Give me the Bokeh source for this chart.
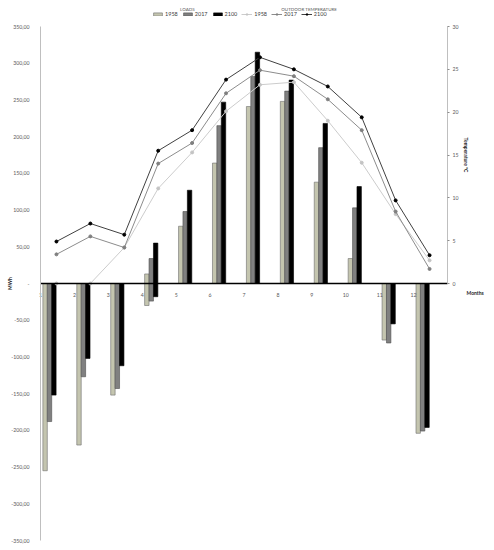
import math
from bokeh.plotting import figure
from bokeh.models import (Range1d, LinearAxis, FixedTicker, Legend, LegendItem,
                          Label, ColumnDataSource)
from bokeh.core.properties import value
from bokeh.embed import file_html
from bokeh.resources import INLINE

months = ["1", "2", "3", "4", "5", "6", "7", "8", "9", "10", "11", "12"]
years = ["1958", "2017", "2100"]

# loads (MWh): negative = heating, positive = cooling
loads_neg_1958 = [-255, -220, -152, -30, 0, 0, 0, 0, 0, 0, -77, -204]
loads_pos_1958 = [0, 0, 0, 13, 78, 164, 241, 248, 138, 34, 0, 0]
loads_neg_2017 = [-188, -127, -143, -24, 0, 0, 0, 0, 0, 0, -81, -201]
loads_pos_2017 = [0, 0, 0, 34, 98, 215, 282, 262, 185, 103, 0, 0]
loads_neg_2100 = [-152, -102, -112, -18, 0, 0, 0, 0, 0, 0, -55, -196]
loads_pos_2100 = [0, 0, 0, 55, 127, 247, 315, 277, 218, 132, 0, 0]

# outdoor temperature (°C)
temp_1958 = [0.0, 0.0, 4.2, 11.1, 15.3, 20.1, 23.2, 23.5, 19.0, 14.1, 8.1, 2.7]
temp_2017 = [3.4, 5.5, 4.2, 14.0, 16.4, 22.2, 24.9, 24.2, 21.5, 17.9, 8.4, 1.7]
temp_2100 = [4.9, 7.0, 5.7, 15.5, 17.9, 23.8, 26.4, 25.0, 23.0, 19.4, 9.7, 3.3]

mwh_ticks = list(range(-350, 351, 50))
temp_ticks = [0, 5, 10, 15, 20, 25, 30]

FONT = "Lato"
GREY_TXT = "#595959"
DARK_TXT = "#262626"

W, H = 494, 548
# frame fills the canvas; axes are placed at fixed data locations
PX_X = 33.92          # px per month
PX_Y = 514 / 700.0    # px per MWh
X0_PX, Y350_PX = 40, 26
x_start = -X0_PX / PX_X
x_end = (W - X0_PX) / PX_X
y_end = 350 + Y350_PX / PX_Y
y_start = y_end - H / PX_Y
k = 30 / 350.0

idx = list(range(len(months)))

p = figure(width=W, height=H, x_range=Range1d(x_start, x_end), y_range=Range1d(y_start, y_end),
           x_axis_location=None, y_axis_location=None, output_backend="svg",
           toolbar_location=None, min_border=0)
p.outline_line_color = None
p.grid.visible = False
p.background_fill_color = "white"
p.extra_y_ranges = {"temp": Range1d(y_start * k, y_end * k)}

# left axis (MWh)
ya = LinearAxis(ticker=FixedTicker(ticks=mwh_ticks), bounds=(-350, 350), fixed_location=0)
ya.major_label_overrides = {t: ("-" if t == 0 else ("%.2f" % t).replace(".", ",")) for t in mwh_ticks}
ya.major_tick_line_color = None
ya.minor_tick_line_color = None
ya.axis_line_color = "#bfbfbf"
ya.major_label_text_font = FONT
ya.major_label_text_font_size = "5.2px"
ya.major_label_text_color = GREY_TXT
ya.major_label_standoff = 5
p.add_layout(ya, "left")

# right axis (temperature)
ra = LinearAxis(y_range_name="temp", ticker=FixedTicker(ticks=temp_ticks), bounds=(0, 30),
                fixed_location=12)
ra.axis_line_color = "#bfbfbf"
ra.major_tick_line_color = "#8c8c8c"
ra.major_tick_out = 2
ra.major_tick_in = 0
ra.minor_tick_line_color = None
ra.major_label_text_font = FONT
ra.major_label_text_font_size = "5.2px"
ra.major_label_text_color = GREY_TXT
ra.major_label_standoff = 3
p.add_layout(ra, "right")

# bars
bar_style = {
    "1958": dict(fill_color="#c4c5af", line_color="#6b6b6b"),
    "2017": dict(fill_color="#808080", line_color="#4d4d4d"),
    "2100": dict(fill_color="#000000", line_color="#000000"),
}
offsets = {"1958": 0.135, "2017": 0.265, "2100": 0.395}
negs = {"1958": loads_neg_1958, "2017": loads_neg_2017, "2100": loads_neg_2100}
poss = {"1958": loads_pos_1958, "2017": loads_pos_2017, "2100": loads_pos_2100}
bar_r = {}
for y in years:
    src = ColumnDataSource(dict(x=[i + offsets[y] for i in idx], bottom=negs[y], top=poss[y]))
    bar_r[y] = p.vbar(x="x", bottom="bottom", top="top", width=0.13, source=src,
                      line_width=0.6, **bar_style[y])

# category axis along zero
xa = LinearAxis(ticker=FixedTicker(ticks=idx), bounds=(0, 12), fixed_location=0)
xa.major_label_overrides = {i: m for i, m in zip(idx, months)}
xa.axis_line_color = "black"
xa.axis_line_width = 1.3
xa.major_tick_line_color = None
xa.minor_tick_line_color = None
xa.major_label_text_font = FONT
xa.major_label_text_font_size = "5.2px"
xa.major_label_text_color = GREY_TXT
xa.major_label_standoff = 3
p.add_layout(xa, "below")

# temperature lines
line_style = {
    "1958": dict(line="#cccccc", marker="#c4c4c4"),
    "2017": dict(line="#8c8c8c", marker="#7f7f7f"),
    "2100": dict(line="#404040", marker="#000000"),
}
temps = {"1958": temp_1958, "2017": temp_2017, "2100": temp_2100}
line_r = {}
for y in years:
    xs = [i + 0.47 for i in idx]
    lr = p.line(xs, temps[y], y_range_name="temp", line_color=line_style[y]["line"], line_width=1)
    sr = p.scatter(xs, temps[y], y_range_name="temp", size=3, marker="circle",
                   fill_color=line_style[y]["marker"], line_color=line_style[y]["marker"])
    line_r[y] = [lr, sr]

# axis titles
p.add_layout(Label(x=-0.9, y=0, text="MWh", angle=math.pi / 2, text_font=FONT,
                   text_font_size="5px", text_font_style="bold", text_color=DARK_TXT,
                   text_align="center", text_baseline="middle"))
p.add_layout(Label(x=12.54, y=15, y_range_name="temp", text="Temperature °C", angle=-math.pi / 2,
                   text_font=FONT, text_font_size="5px", text_font_style="bold",
                   text_color=DARK_TXT, text_align="center", text_baseline="middle"))
p.add_layout(Label(x=12.56, y=-13.6, text="Months", text_font=FONT,
                   text_font_size="5px", text_font_style="bold", text_color=DARK_TXT,
                   text_align="left", text_baseline="middle"))

# legend
items = [LegendItem(label=y, renderers=[bar_r[y]]) for y in years] + \
        [LegendItem(label=y, renderers=line_r[y]) for y in years]
leg = Legend(items=items, orientation="horizontal", location=(152, H - 17),
             label_text_font=FONT, label_text_font_size="5.5px", label_text_color="#404040",
             glyph_width=11, glyph_height=4, label_height=6, label_width=10, label_standoff=2,
             spacing=4, padding=0, margin=0, border_line_color=None, background_fill_alpha=0)
p.add_layout(leg, "center")

p.add_layout(Label(x=4.33, y=373, text="LOADS", text_font=FONT, text_font_size="4.5px",
                   text_color=GREY_TXT, text_align="center", text_baseline="middle"))
p.add_layout(Label(x=7.92, y=373, text="OUTDOOR TEMPERATURE", text_font=FONT,
                   text_font_size="4.5px", text_color=GREY_TXT, text_align="center",
                   text_baseline="middle"))

open("out.html", "w").write(file_html(p, INLINE))
